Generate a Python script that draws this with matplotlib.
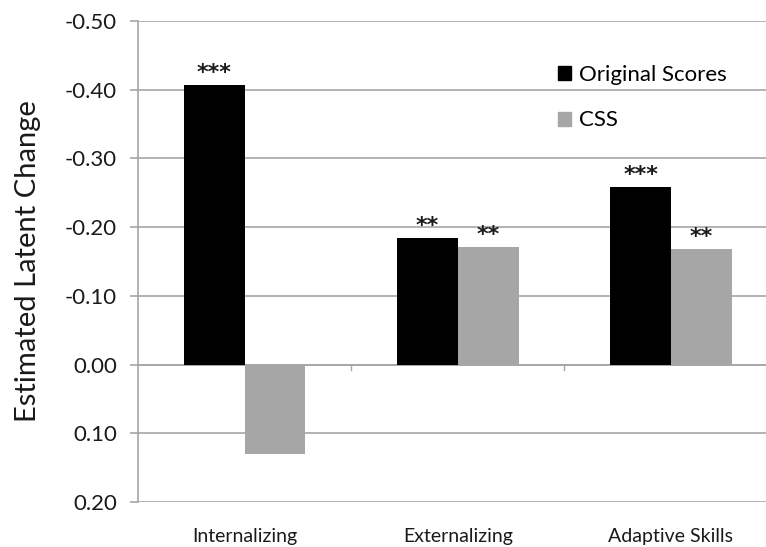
import numpy as np
import matplotlib
matplotlib.use("Agg")
import matplotlib.pyplot as plt
from matplotlib.patches import Patch

categories = ["Internalizing", "Externalizing", "Adaptive Skills"]
original = [-0.407, -0.184, -0.258]
css = [0.130, -0.171, -0.168]
stars_original = ["***", "**", "***"]
stars_css = ["", "**", "**"]
yticks = [-0.50, -0.40, -0.30, -0.20, -0.10, 0.00, 0.10, 0.20]

plt.rcParams["font.family"] = ["Lato", "DejaVu Sans"]
GRID = "#a6a6a6"
TEXT = "#1a1a1a"

fig = plt.figure(figsize=(7.66, 5.47), dpi=100)
ax = fig.add_axes([138 / 766, 1 - 502 / 547, (766 - 138) / 766, (502 - 21) / 547])

x = np.arange(len(categories))
w = 0.285
ax.bar(x - w / 2, original, w, color="black", zorder=3)
ax.bar(x + w / 2, css, w, color="#a6a6a6", zorder=3)

for xi, v, s in zip(x, original, stars_original):
    ax.text(xi - w / 2, v - 0.003, s, ha="center", va="bottom",
            fontsize=16, fontweight="bold", color=TEXT, family="DejaVu Sans")
for xi, v, s in zip(x, css, stars_css):
    if s:
        ax.text(xi + w / 2, min(v, 0) - 0.003, s, ha="center", va="bottom",
                fontsize=16, fontweight="bold", color=TEXT, family="DejaVu Sans")

ax.set_ylim(0.20, -0.50)
ax.set_xlim(-0.5, 2 + (766 - 671) / 213)
ax.set_yticks(yticks)
ax.set_yticklabels([f"{t:.2f}" for t in yticks])
ax.yaxis.grid(True, color=GRID, lw=1.2, zorder=0)
ax.set_axisbelow(True)

# category axis line at zero with boundary ticks
ax.axhline(0, color=GRID, lw=1.2, zorder=2)
for b in [0.5, 1.5]:
    ax.plot([b, b], [0, 0.008], color=GRID, lw=1.0, zorder=2, clip_on=False)

ax.set_xticks(x)
ax.set_xticklabels(categories)
ax.tick_params(axis="x", length=0, pad=19, labelsize=14, colors=TEXT)
ax.tick_params(axis="y", length=6, width=1.2, color=GRID, pad=9, labelsize=16,
               labelcolor=TEXT)

for side in ["top", "right", "bottom"]:
    ax.spines[side].set_visible(False)
ax.spines["left"].set_color(GRID)
ax.spines["left"].set_linewidth(1.2)

ax.set_ylabel("Estimated Latent Change", fontsize=21, color=TEXT, labelpad=17)

handles = [Patch(color="black"), Patch(color="#a6a6a6")]
ax.legend(handles, ["Original Scores", "CSS"], loc="upper left",
          bbox_to_anchor=((549 - 138) / (766 - 138), 1 - (56 - 21) / (502 - 21)),
          frameon=False, fontsize=16, handlelength=0.6, handleheight=0.6,
          handletextpad=0.35, labelspacing=1.15, borderaxespad=0)

fig.savefig("out.png", dpi=100)
